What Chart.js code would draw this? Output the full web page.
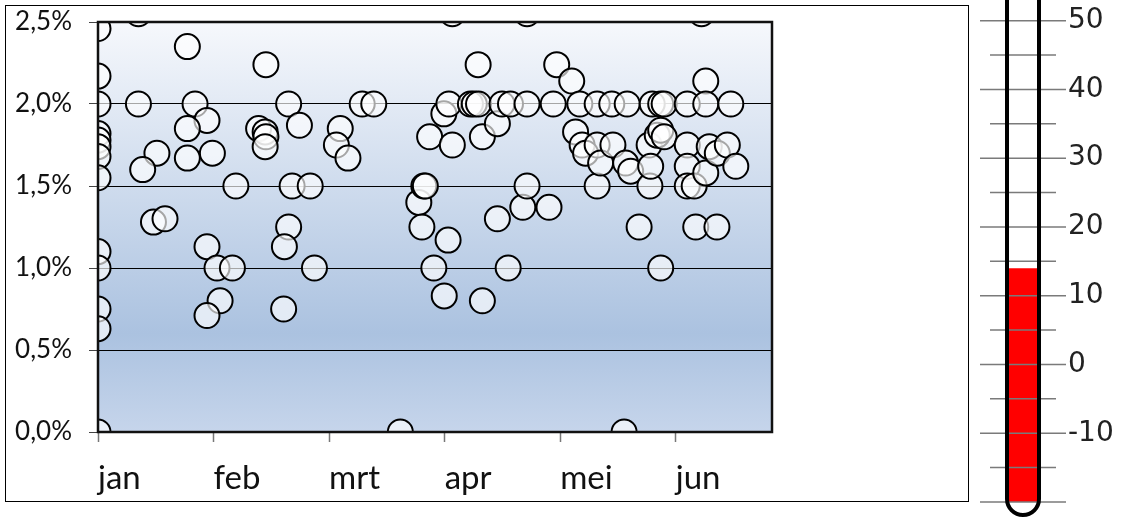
<!DOCTYPE html>
<html>
<head>
<meta charset="utf-8">
<script src="https://cdn.jsdelivr.net/npm/chart.js@4.4.1/dist/chart.umd.min.js"></script>
<style>
  html, body { margin: 0; padding: 0; background: #fff; }
  #wrap { position: relative; width: 1124px; height: 520px; overflow: hidden; }
  #frame { position: absolute; left: 5px; top: 5px; width: 962px; height: 495px; border: 1px solid #000; }
  #scatter { position: absolute; left: 0; top: 0; }
  #thermo { position: absolute; left: 970px; top: 0; }
</style>
</head>
<body>
<div id="wrap">
  <div id="frame"></div>
  <canvas id="scatter" width="970" height="520"></canvas>
  <canvas id="thermo" width="154" height="520"></canvas>
</div>
<script>
  // x = days since 1 jan (ticks every 30 days), y = percentage
  const months = ["jan", "feb", "mrt", "apr", "mei", "jun"];

  const days = [
    0, 0, 0, 0, 0, 0, 0, 0, 0, 0, 0, 0, 0,
    10.5, 23.2, 43.6, 10.5, 25.2, 28.3, 23.2, 49.5, 52.3, 41.7,
    43.4, 43.6, 43.4, 15.3, 11.6, 23.2, 29.7, 35.8, 50.4, 55.1,
    14.4, 17.4, 49.5, 48.4, 28.3, 30.9, 34.9, 31.7, 28.3, 48.2,
    56.2, 62.9, 61.9, 64.9, 68.6, 71.6, 78.5, 83.3, 84.1, 84.6,
    85.0, 86.1, 87.2, 89.9, 90.9, 89.8, 91.1, 92.0, 92.0, 96.7,
    97.7, 98.8, 98.7, 99.8, 99.8, 103.7, 103.7, 104.9, 106.5, 107.1,
    110.3, 111.4, 111.4, 111.4, 117.1, 118.2, 119.1, 123.0, 124.0, 125.1,
    125.7, 126.6, 129.6, 129.6, 129.6, 130.5, 133.4, 133.7, 136.6, 137.0,
    137.4, 138.3, 140.5, 143.1, 143.3, 143.5, 143.9, 145.2, 146.1, 146.1,
    146.1, 147.0, 147.0, 153.0, 153.0, 153.0, 153.0, 154.8, 155.2, 156.7,
    157.8, 157.8, 157.8, 158.7, 160.8, 160.7, 163.4, 164.3, 165.6,
  ];

  const rates = [
    2.46, 2.17, 2.00, 1.82, 1.78, 1.74, 1.68, 1.55, 1.10, 1.00, 0.75, 0.63, 0.00,
    2.55, 2.35, 2.24, 2.00, 2.00, 1.90, 1.85, 2.00, 1.87, 1.85,
    1.83, 1.80, 1.74, 1.70, 1.60, 1.67, 1.70, 1.50, 1.50, 1.50,
    1.28, 1.30, 1.25, 1.13, 1.13, 1.00, 1.00, 0.80, 0.71, 0.75,
    1.00, 1.85, 1.75, 1.67, 2.00, 2.00, 0.00, 1.40, 1.25, 1.50,
    1.50, 1.80, 1.00, 0.83, 1.17, 1.94, 2.00, 1.75, 2.55, 2.00,
    2.00, 2.00, 2.24, 1.80, 0.80, 1.88, 1.30, 2.00, 1.00, 2.00,
    1.37, 1.50, 2.00, 2.55, 1.37, 2.00, 2.24, 2.14, 1.83, 2.00,
    1.75, 1.70, 2.00, 1.75, 1.50, 1.64, 2.00, 1.75, 0.00, 1.64,
    2.00, 1.59, 1.25, 1.75, 1.50, 1.62, 2.00, 1.81, 1.84, 2.00,
    1.00, 1.80, 2.00, 2.00, 1.75, 1.62, 1.50, 1.50, 1.25, 2.55,
    2.14, 2.00, 1.58, 1.74, 1.70, 1.25, 1.75, 2.00, 1.62,
  ];

  // thermometer: fill from the bottom of the scale up to the current value
  const thermoBottom = -20;
  const thermoValue = 14;

  const plotBg = {
    id: "plotBg",
    beforeDraw(chart) {
      const { ctx, chartArea: a } = chart;
      const g = ctx.createLinearGradient(0, a.top, 0, a.bottom);
      g.addColorStop(0, "#f6f8fc");
      g.addColorStop(0.76, "#abc2e0");
      g.addColorStop(1, "#c6d5eb");
      ctx.save();
      ctx.fillStyle = g;
      ctx.fillRect(a.left, a.top, a.right - a.left, a.bottom - a.top);
      ctx.restore();
    },
    afterDatasetsDraw(chart) {
      const { ctx, chartArea: a } = chart;
      ctx.save();
      ctx.strokeStyle = "#111";
      ctx.lineWidth = 2.5;
      ctx.strokeRect(a.left, a.top, a.right - a.left, a.bottom - a.top);
      ctx.restore();
    },
  };

  new Chart(document.getElementById("scatter"), {
    type: "scatter",
    data: {
      datasets: [
        {
          data: days.map((d, i) => ({ x: d, y: rates[i] })),
          pointRadius: 12.5,
          pointHoverRadius: 12.5,
          borderColor: "#000",
          borderWidth: 2,
          backgroundColor: "rgba(255, 255, 255, 0.65)",
          clip: 0,
        },
      ],
    },
    options: {
      responsive: false,
      animation: false,
      events: [],
      layout: { padding: { left: 0, top: 22, right: 198, bottom: 0 } },
      plugins: { legend: { display: false }, tooltip: { enabled: false } },
      scales: {
        x: {
          type: "linear",
          min: 0,
          max: 175,
          afterFit: (s) => { s.height = 88; s.paddingLeft = 0; s.paddingRight = 0; },
          grid: { drawOnChartArea: false, tickLength: 10, tickColor: "#777", tickWidth: 1.5 },
          border: { display: false },
          ticks: {
            stepSize: 30,
            includeBounds: false,
            align: "start",
            padding: 17,
            color: "#111",
            font: { family: "Lato", size: 33 },
            callback: (v) => months[Math.round(v / 30)],
          },
        },
        y: {
          min: 0,
          max: 2.5,
          afterFit: (s) => { s.width = 98; s.paddingTop = 0; s.paddingBottom = 0; },
          grid: { color: "#000", lineWidth: 1, tickLength: 9, tickColor: "#444" },
          border: { display: false },
          ticks: {
            stepSize: 0.5,
            padding: 17,
            color: "#111",
            font: { family: "Lato", size: 26 },
            callback: (v) => v.toFixed(1).replace(".", ",") + "%",
          },
        },
      },
    },
    plugins: [plotBg],
  });

  const tube = {
    id: "tube",
    afterDatasetsDraw(chart) {
      const { ctx, chartArea: a, scales: { y } } = chart;
      const cx = (a.left + a.right) / 2;
      ctx.save();
      ctx.strokeStyle = "#7a7a7a";
      ctx.lineWidth = 1.5;
      y.ticks.forEach((t) => {
        const py = y.getPixelForValue(t.value);
        ctx.beginPath();
        ctx.moveTo(a.left, py);
        ctx.lineTo(a.right, py);
        ctx.stroke();
        if (t.value + 5 < y.max) {
          const my = y.getPixelForValue(t.value + 5);
          ctx.beginPath();
          ctx.moveTo(cx - 33, my);
          ctx.lineTo(cx + 33, my);
          ctx.stroke();
        }
      });
      ctx.restore();
    },
    afterDraw(chart) {
      const { ctx, chartArea: a, scales: { y } } = chart;
      const cx = (a.left + a.right) / 2;
      const r = 16;
      const by = y.getPixelForValue(y.min) - 3;
      ctx.save();
      ctx.strokeStyle = "#000";
      ctx.lineWidth = 4;
      ctx.beginPath();
      ctx.moveTo(cx - r, -10);
      ctx.lineTo(cx - r, by);
      ctx.arc(cx, by, r, Math.PI, 0, true);
      ctx.lineTo(cx + r, -10);
      ctx.stroke();
      ctx.restore();
    },
  };

  new Chart(document.getElementById("thermo"), {
    type: "bar",
    data: {
      labels: [""],
      datasets: [
        {
          data: [[thermoBottom, thermoValue]],
          backgroundColor: "#ff0000",
          borderWidth: 0,
          barPercentage: 0.35,
          categoryPercentage: 1,
        },
      ],
    },
    options: {
      responsive: false,
      animation: false,
      events: [],
      layout: { padding: { left: 10, top: 0, right: 0, bottom: 18 } },
      plugins: { legend: { display: false }, tooltip: { enabled: false } },
      scales: {
        x: { display: false },
        y: {
          position: "right",
          min: thermoBottom,
          max: 53,
          afterFit: (s) => { s.width = 58; s.paddingTop = 0; s.paddingBottom = 0; },
          grid: { display: false, drawTicks: false },
          border: { display: false },
          ticks: {
            stepSize: 10,
            includeBounds: false,
            padding: 2,
            color: "#222",
            font: { family: "DejaVu Sans", size: 28 },
            callback: (v) => (v === thermoBottom ? "" : v),
          },
        },
      },
    },
    plugins: [tube],
  });
</script>
</body>
</html>
